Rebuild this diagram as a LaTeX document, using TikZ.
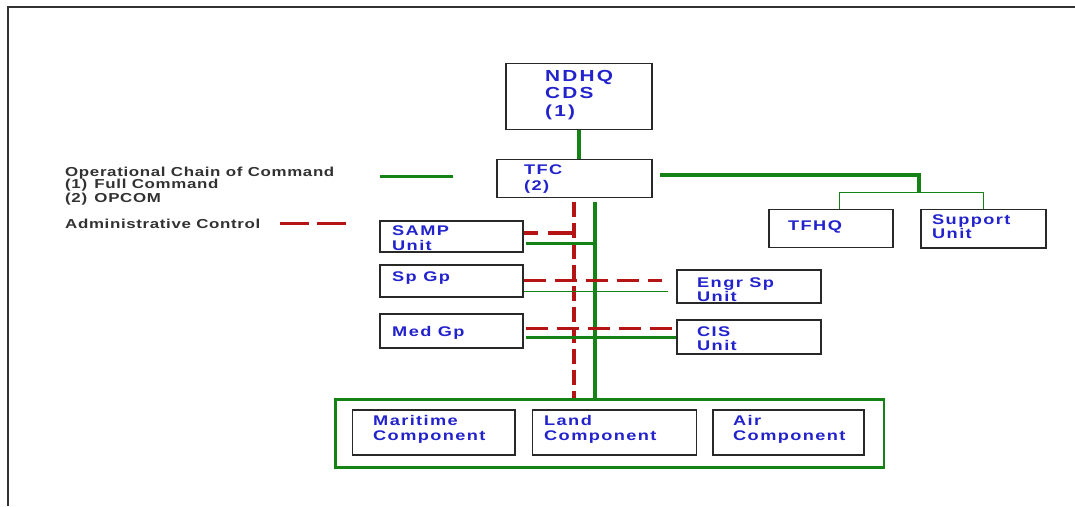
\documentclass[tikz,border=0pt]{standalone}
\usepackage{fontspec}
\usetikzlibrary{calc}
\newfontfamily\legfont{Liberation Sans}[FakeStretch=1.3,LetterSpace=5]
\newfontfamily\boxfont{Liberation Sans}[FakeStretch=1.3,LetterSpace=10]
\newfontfamily\bigfont{Liberation Sans}[FakeStretch=1.3,LetterSpace=14]
\definecolor{tblue}{RGB}{35,35,205}
\definecolor{tgreen}{RGB}{20,130,20}
\definecolor{tred}{RGB}{180,20,20}
\definecolor{boxgray}{RGB}{40,40,40}
\definecolor{leggray}{RGB}{50,50,50}
\tikzset{
  box/.style={draw=boxgray, line width=1.5pt, inner sep=0pt, anchor=north west, fill=white},
  gbox/.style={draw=tgreen, line width=2.5pt, inner sep=0pt, anchor=north west},
  txt/.style={inner sep=0pt, anchor=base west, text=tblue, font=\boxfont\bfseries\fontsize{14}{15}\selectfont},
  bigtxt/.style={inner sep=0pt, anchor=base west, text=tblue, font=\bigfont\bfseries\fontsize{16}{17}\selectfont},
  legtxt/.style={inner sep=0pt, anchor=base west, text=leggray, font=\legfont\bfseries\fontsize{13}{14}\selectfont},
  gthick/.style={draw=tgreen, line width=3.8pt},
  gmid/.style={draw=tgreen, line width=3pt},
  gthin/.style={draw=tgreen, line width=1.3pt},
  rdash/.style={draw=tred, line width=3.4pt, dash pattern=on 22pt off 9pt},
  rdashv/.style={draw=tred, line width=3.4pt, dash pattern=on 15pt off 6pt},
}
\begin{document}
\begin{tikzpicture}[x=1pt,y=-1pt]
\useasboundingbox[fill=white] (0,0) rectangle (1075,506);
% frame
\draw[line width=2pt, draw=black!80] (8,506) -- (8,7) -- (1075,7);

% boxes
\node[box, minimum width=146pt, minimum height=66pt] (ndhq) at (505,62.5) {};
\node[box, minimum width=155pt, minimum height=38pt] (tfc) at (496,158.5) {};
\node[box, minimum width=143pt, minimum height=31pt] (samp) at (379,220) {};
\node[box, minimum width=143pt, minimum height=32pt] (spgp) at (379,264) {};
\node[box, minimum width=143pt, minimum height=34pt] (medgp) at (379,313) {};
\node[box, minimum width=144pt, minimum height=33pt] (engr) at (676,269) {};
\node[box, minimum width=144pt, minimum height=34pt] (cis) at (676,319) {};
\node[box, minimum width=124pt, minimum height=38pt] (tfhq) at (768,208.5) {};
\node[box, minimum width=125pt, minimum height=38.5pt] (supp) at (920,208.5) {};
\node[gbox, minimum width=548.5pt, minimum height=68pt] (cont) at (334,398) {};
\node[box, minimum width=162.6pt, minimum height=45pt] (mar) at (351.7,409) {};
\node[box, minimum width=164pt, minimum height=45pt] (land) at (531.7,409) {};
\node[box, minimum width=150.7pt, minimum height=45pt] (air) at (712.3,409) {};

% helper coordinates
\path ($(tfc.south)+(20.8,3.5)$) coordinate (gtop);
\path ($(tfc.south)+(-0.2,3.5)$) coordinate (rtop);
\path ($(tfc.east)+(7.5,-3.2)$) coordinate (tr);
\path ($(supp.north west)+(-1,-16.3)$) coordinate (bus);
\path ($(tfhq.north)+(9,0)$) coordinate (tq);
\path (samp.east -| rtop) coordinate (sr);
\path (samp.east -| gtop) coordinate (sg);
\path (spgp.east -| engr.west) coordinate (se);
\path (medgp.east -| cis.west) coordinate (mc);

% connectors
\draw[gthick] (ndhq.south) -- (ndhq.south |- tfc.north);
\draw[gthick] (tr) -- (tr -| bus) -- (bus);
\draw[gthin] (tq) -- (tq |- bus) -- (bus -| supp.north) -- (supp.north);
\draw[rdashv] (rtop) -- (rtop |- cont.north);
\draw[gthick] (gtop) -- (gtop |- cont.north);
\draw[rdash, dash pattern=on 26pt off 10pt] ($(sr)+(0,-3.2)$) -- ($(samp.east)+(0,-3.2)$);
\draw[gmid] ($(samp.east)+(2,6.8)$) -- ($(sg)+(0,6.8)$);
\draw[rdash] (spgp.east) -- ($(se)+(-14,0)$);
\draw[gthin] ($(spgp.east)+(0,10.7)$) -- ($(se)+(-8,10.7)$);
\draw[rdash] ($(medgp.east)+(2,-2)$) -- ($(mc)+(0,-2)$);
\draw[gmid] ($(medgp.east)+(2,7)$) -- ($(mc)+(0,7)$);

% legend
\coordinate (lg1) at (380,176.7);
\coordinate (lg2) at (453,176.7);
\draw[gthick, line width=3pt] (lg1) -- (lg2);
\coordinate (lr1) at (280,223.3);
\coordinate (lr2) at (346,223.3);
\draw[rdash, dash pattern=on 29pt off 8pt] (lr1) -- (lr2);
\node[legtxt] (l1) at (65,176.7) {Operational Chain of Command};
\node[legtxt] (l2) at (65,188.8) {(1)\kern2pt{} Full Command};
\node[legtxt] (l3) at (65,202) {(2)\kern2pt{} OPCOM};
\node[legtxt] (l4) at (65,228.7) {Administrative Control};

% texts
\node[bigtxt] (t1) at (545,81) {NDHQ};
\node[bigtxt] (t2) at (545,98.7) {CDS};
\node[bigtxt] (t3) at (545,116) {(1)};
\node[txt] (t4) at (524,174.3) {TFC};
\node[txt] (t5) at (524,190) {(2)};
\node[txt] (t6) at (392,235) {SAMP};
\node[txt] (t7) at (392,250.7) {Unit};
\node[txt] (t8) at (392,281) {Sp Gp};
\node[txt] (t9) at (697,287.3) {Engr Sp};
\node[txt] (t10) at (697,301.7) {Unit};
\node[txt] (t11) at (392,336.7) {Med Gp};
\node[txt] (t12) at (697,336) {CIS};
\node[txt] (t13) at (697,350.7) {Unit};
\node[txt] (t14) at (788,230) {TFHQ};
\node[txt] (t15) at (932,224) {Support};
\node[txt] (t16) at (932,238.7) {Unit};
\node[txt] (t17) at (373,425.7) {Maritime};
\node[txt] (t18) at (373,440) {Component};
\node[txt] (t19) at (544,425.7) {Land};
\node[txt] (t20) at (544,440) {Component};
\node[txt] (t21) at (733,425.7) {Air};
\node[txt] (t22) at (733,440) {Component};
\end{tikzpicture}
\end{document}
